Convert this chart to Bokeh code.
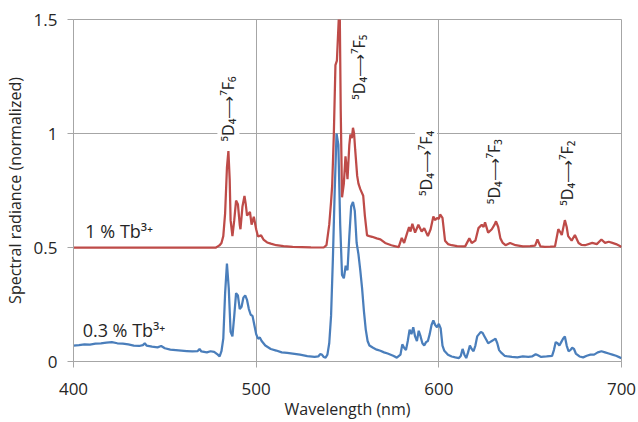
import math
from bokeh.plotting import figure
from bokeh.models import Label, FixedTicker
from bokeh.embed import file_html
from bokeh.resources import INLINE

# ---- data ----
blue_wl = [400, 403, 406, 409, 412, 415, 418, 421, 424, 427, 430, 433, 436, 438, 439, 440, 443, 446, 448, 450,
           453, 456, 459, 462, 465, 468, 469, 470, 473, 475, 477, 479, 480, 481, 482, 483, 484, 485, 486, 487,
           488, 489, 490, 491, 492, 493, 494, 495, 496, 497, 498, 499, 500, 501, 502, 503, 505, 508, 511, 514,
           517, 520, 524, 528, 532, 534, 535, 536, 537, 538, 539, 540, 541, 542, 543, 544, 545, 546, 547, 548,
           549, 550, 551, 552, 553, 554, 555, 556, 557, 558, 559, 560, 561, 562, 564, 566, 568, 570, 572, 575,
           577, 579, 580, 581, 582, 583, 584, 585, 586, 587, 588, 589, 590, 591, 592, 593, 594, 595, 596, 597,
           598, 599, 600, 601, 602, 603, 605, 607, 609, 611, 612, 613, 614, 615, 616, 617, 618, 619, 620, 621,
           622, 623, 624, 625, 626, 627, 628, 629, 630, 631, 632, 633, 634, 636, 638, 640, 643, 646, 649, 651,
           653, 654, 656, 659, 662, 663, 664, 665, 666, 667, 668, 669, 670, 671, 672, 673, 674, 675, 677, 679,
           681, 683, 685, 687, 689, 691, 693, 695, 697, 699, 700]
blue_val = [0.070, 0.072, 0.075, 0.074, 0.078, 0.080, 0.083, 0.085, 0.080, 0.078, 0.075, 0.070, 0.068, 0.072, 0.080, 0.070, 0.065, 0.062, 0.068, 0.058,
            0.052, 0.050, 0.048, 0.046, 0.044, 0.046, 0.055, 0.044, 0.040, 0.045, 0.042, 0.030, 0.022, 0.045, 0.100, 0.300, 0.430, 0.320, 0.130, 0.110,
            0.200, 0.300, 0.290, 0.230, 0.240, 0.280, 0.290, 0.270, 0.230, 0.205, 0.200, 0.160, 0.120, 0.100, 0.105, 0.090, 0.070, 0.055, 0.048, 0.040,
            0.038, 0.035, 0.030, 0.024, 0.020, 0.022, 0.032, 0.030, 0.020, 0.017, 0.030, 0.080, 0.200, 0.450, 0.750, 1.000, 0.950, 0.600, 0.380, 0.365,
            0.420, 0.400, 0.550, 0.680, 0.700, 0.660, 0.520, 0.470, 0.400, 0.320, 0.220, 0.140, 0.090, 0.070, 0.060, 0.052, 0.047, 0.040, 0.035, 0.025,
            0.017, 0.030, 0.075, 0.060, 0.050, 0.090, 0.140, 0.120, 0.150, 0.110, 0.090, 0.135, 0.110, 0.080, 0.070, 0.085, 0.090, 0.120, 0.160, 0.180,
            0.160, 0.150, 0.165, 0.145, 0.070, 0.047, 0.030, 0.022, 0.018, 0.015, 0.024, 0.055, 0.030, 0.015, 0.040, 0.070, 0.055, 0.045, 0.070, 0.110,
            0.120, 0.130, 0.125, 0.110, 0.095, 0.080, 0.085, 0.090, 0.095, 0.100, 0.080, 0.050, 0.040, 0.025, 0.022, 0.020, 0.018, 0.022, 0.020, 0.022,
            0.032, 0.028, 0.020, 0.022, 0.025, 0.050, 0.085, 0.080, 0.070, 0.085, 0.100, 0.110, 0.070, 0.045, 0.050, 0.060, 0.055, 0.035, 0.022, 0.018,
            0.025, 0.030, 0.030, 0.040, 0.045, 0.040, 0.035, 0.030, 0.025, 0.018, 0.015]

red_wl = [400, 420, 440, 460, 478, 479, 480, 481, 482, 483, 484, 484.8, 485.5, 486, 487, 488, 489, 490, 491, 491.4,
          492.5, 493.6, 494.3, 495, 496.6, 497.5, 498.7, 500, 501, 502.7, 504, 506, 508, 511, 515, 520, 525, 530, 537, 538.5,
          540, 541, 541.6, 542.5, 543.4, 544.2, 545.2, 545.8, 546.3, 547, 548, 548.9, 549.5, 550, 551, 551.6, 552.4, 553, 553.6, 554.2,
          555.3, 556, 557, 558.6, 559.5, 560.7, 562, 563.5, 566, 568, 570.6, 574, 578, 579.7, 581, 582.5, 583.7, 584.5, 585.5, 587,
          588.8, 590.6, 592, 594, 595.5, 597, 598, 599, 600, 600.7, 602, 603.4, 605, 607, 610, 614.4, 616.7, 618, 620, 621.7,
          623.5, 624.5, 625.3, 627, 629, 630.5, 631.3, 632.5, 633.7, 635, 636.5, 639, 642, 646, 650, 652.7, 654, 655.6, 658, 661,
          663.6, 665.4, 666.3, 667.3, 669, 670, 670.8, 672.7, 674.5, 676.5, 678, 680, 684, 686.5, 689, 691, 693, 695, 697, 699.4, 700]
red_val = [0.500, 0.500, 0.500, 0.500, 0.500, 0.505, 0.510, 0.520, 0.550, 0.650, 0.850, 0.923, 0.800, 0.620, 0.550, 0.620, 0.706, 0.690, 0.600, 0.580,
           0.680, 0.726, 0.690, 0.640, 0.656, 0.600, 0.635, 0.580, 0.548, 0.553, 0.535, 0.522, 0.517, 0.510, 0.506, 0.503, 0.502, 0.501, 0.500, 0.510,
           0.600, 0.700, 0.770, 0.990, 1.300, 1.320, 1.500, 1.500, 1.100, 0.720, 0.780, 0.900, 0.850, 0.800, 0.950, 0.996, 0.980, 1.025, 1.000, 0.930,
           0.814, 0.780, 0.756, 0.727, 0.640, 0.553, 0.550, 0.547, 0.540, 0.536, 0.520, 0.510, 0.502, 0.542, 0.520, 0.560, 0.590, 0.570, 0.604, 0.565,
           0.600, 0.570, 0.585, 0.550, 0.580, 0.636, 0.620, 0.630, 0.625, 0.645, 0.630, 0.530, 0.515, 0.510, 0.506, 0.505, 0.540, 0.520, 0.530, 0.585,
           0.600, 0.590, 0.610, 0.565, 0.580, 0.600, 0.615, 0.590, 0.540, 0.520, 0.510, 0.520, 0.510, 0.505, 0.506, 0.508, 0.535, 0.505, 0.503, 0.504,
           0.505, 0.580, 0.570, 0.555, 0.620, 0.590, 0.550, 0.530, 0.555, 0.520, 0.512, 0.510, 0.520, 0.515, 0.535, 0.520, 0.525, 0.520, 0.515, 0.505, 0.502]

transition_labels = ["⁵D₄⟶⁷F₆", "⁵D₄⟶⁷F₅", "⁵D₄⟶⁷F₄", "⁵D₄⟶⁷F₃", "⁵D₄⟶⁷F₂"]
transition_x = [484.8, 556.5, 593.0, 630.0, 670.0]
transition_y = [0.965, 1.148, 0.726, 0.690, 0.683]

series_names = ["1 % Tb³⁺", "0.3 % Tb³⁺"]
series_label_x = [406.5, 405.0]
series_label_y = [0.574, 0.139]

x_ticks = [400, 500, 600, 700]
y_ticks = [0, 0.5, 1, 1.5]

RED = "#BE4B48"
BLUE = "#4A7EBB"
GRID = "#A6A6A6"
TXT = "#262626"
FONT = "Open Sans"

p = figure(width=638, height=422, x_range=(400, 700), y_range=(0, 1.5),
           output_backend="svg", toolbar_location=None,
           min_border_left=73, min_border_right=17, min_border_top=19, min_border_bottom=58)

p.background_fill_color = "white"
p.border_fill_color = "white"
p.outline_line_color = GRID
p.outline_line_width = 1

p.xaxis.ticker = FixedTicker(ticks=x_ticks)
p.yaxis.ticker = FixedTicker(ticks=y_ticks)
p.yaxis.major_label_overrides = {0: "0", 0.5: "0.5", 1: "1", 1.5: "1.5"}

for ax in (p.xaxis[0], p.yaxis[0]):
    ax.axis_line_color = GRID
    ax.major_tick_line_color = GRID
    ax.major_tick_out = 6
    ax.major_tick_in = 0
    ax.minor_tick_line_color = None
    ax.major_label_text_font = FONT
    ax.major_label_text_font_size = "17px"
    ax.major_label_text_color = TXT
    ax.axis_label_text_font = FONT
    ax.axis_label_text_font_size = "16px"
    ax.axis_label_text_font_style = "normal"
    ax.axis_label_text_color = TXT

p.xaxis.axis_label = "Wavelength (nm)"
p.yaxis.axis_label = "Spectral radiance (normalized)"
p.xaxis.major_label_standoff = 15
p.xaxis.axis_label_standoff = 0
p.yaxis.major_label_standoff = 10
p.yaxis.axis_label_standoff = 5

p.xgrid.ticker = FixedTicker(ticks=x_ticks)
p.ygrid.ticker = FixedTicker(ticks=y_ticks)
p.xgrid.grid_line_color = GRID
p.ygrid.grid_line_color = GRID

p.line(blue_wl, blue_val, line_color=BLUE, line_width=2.25)
p.line(red_wl, red_val, line_color=RED, line_width=2.25)

for t, x, y in zip(transition_labels, transition_x, transition_y):
    p.add_layout(Label(x=x, y=y, text=t, angle=math.pi / 2, text_align="left",
                       text_baseline="middle", text_font=FONT, text_font_size="16px",
                       text_color=TXT, background_fill_color="white"))

for t, x, y in zip(series_names, series_label_x, series_label_y):
    p.add_layout(Label(x=x, y=y, text=t, text_align="left", text_baseline="middle",
                       text_font=FONT, text_font_size="18px", text_color=TXT))

open("out.html", "w").write(file_html(p, INLINE))
